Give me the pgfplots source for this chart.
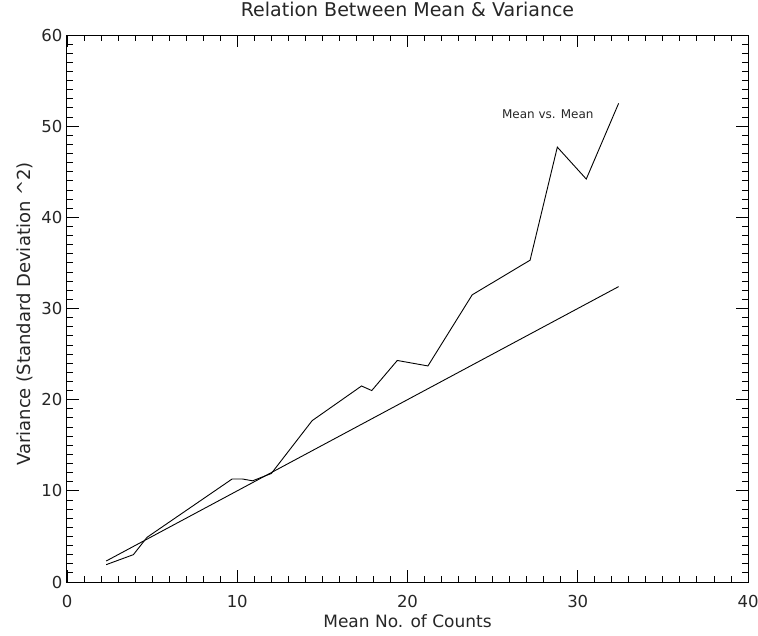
\documentclass[border=0pt]{standalone}
\usepackage{fontspec}
\setmainfont{DejaVu Sans}
\usepackage{pgfplots}
\pgfplotsset{compat=1.18}

% mean of counts vs. variance
\pgfplotstableread{
x y
2.3 1.9
3.9 3.0
4.7 4.9
9.7 11.3
10.3 11.3
10.9 11.1
12.0 11.9
14.4 17.7
17.3 21.5
17.9 21.0
19.4 24.3
21.2 23.7
23.8 31.5
27.2 35.3
28.8 47.7
30.5 44.2
32.4 52.5
}\variance

\begin{document}
\begin{tikzpicture}
\useasboundingbox (-67pt,-53pt) rectangle (691pt,582pt);
\begin{axis}[
    at={(0,0)}, anchor=south west,
    scale only axis,
    width=681pt, height=547pt,
    xmin=0, xmax=40, ymin=0, ymax=60,
    xtick={0,10,...,40}, ytick={0,10,...,60},
    minor tick num=9,
    tick align=inside,
    major tick length=12pt,
    minor tick length=6pt,
    axis line style={line width=1pt},
    every tick/.style={black, line width=0.9pt},
    /pgf/number format/assume math mode=true,
    tick label style={font=\fontsize{16.5}{16.5}\selectfont, text=black!85},
    xticklabel style={yshift=-10pt},
    yticklabel style={xshift=-1pt},
    label style={font=\fontsize{17}{17}\selectfont, text=black!85},
    xlabel style={at={(axis description cs:0.5,-0.084)}, anchor=base},
    ylabel style={font=\fontsize{18}{18}\selectfont,
        at={(axis description cs:-0.0543,0.49)}, anchor=base},
    xlabel={Mean No. of Counts},
    ylabel={Variance (Standard Deviation \^{}2)},
]
\addplot[black, line width=0.9pt] table {\variance};
\addplot[black, line width=0.9pt] coordinates {(2.3,2.3) (32.4,32.4)};
\node[anchor=west, font=\fontsize{12}{12}\selectfont, text=black!85]
    at (axis cs:25.35,51.3) {Mean vs. Mean};
\end{axis}
\node[anchor=base, font=\fontsize{19}{19}\selectfont, text=black!85]
    at (340.5pt,565pt) {Relation Between Mean \& Variance};
\end{tikzpicture}
\end{document}
